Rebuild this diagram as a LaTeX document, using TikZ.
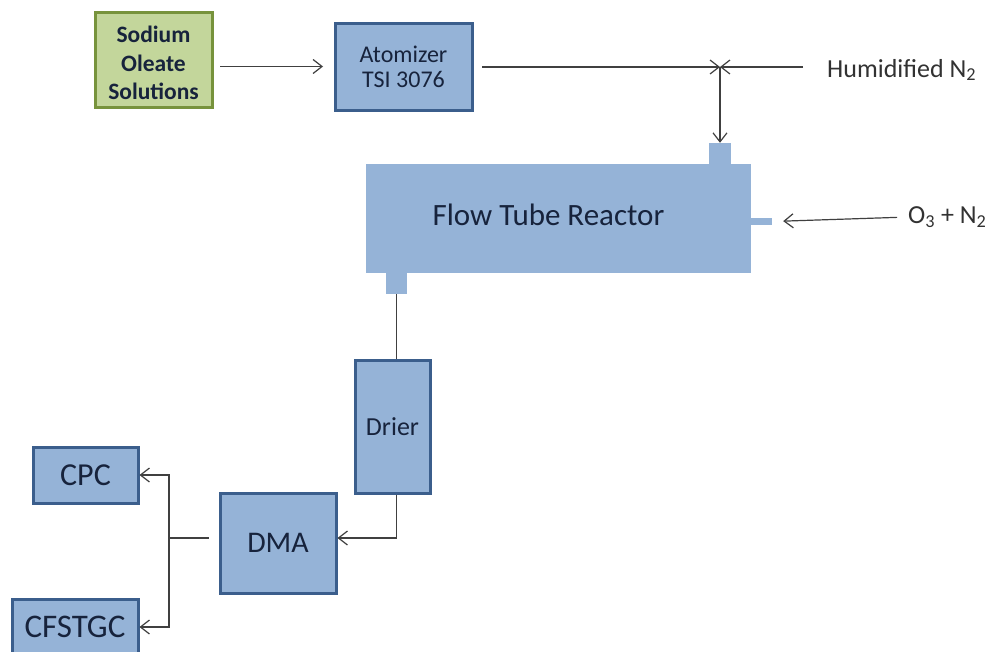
\documentclass[tikz,border=0pt]{standalone}
\usepackage{fontspec}
\setmainfont{Carlito}
\usepackage{tikz}
\usetikzlibrary{positioning,arrows.meta,calc}
\definecolor{boxfill}{RGB}{149,179,215}
\definecolor{boxline}{RGB}{59,94,140}
\definecolor{solfill}{RGB}{195,214,155}
\definecolor{solline}{RGB}{119,147,60}
\definecolor{boxtext}{RGB}{23,35,60}
\definecolor{lbltext}{RGB}{50,50,50}
\tikzset{
  flow/.style={line width=1.2pt,draw=black!75},
  flowarr/.style={flow,-{Straight Barb[length=9pt,width=14pt,line width=1.2pt]}},
  unit/.style={rectangle,draw=boxline,fill=boxfill,line width=3pt,text=boxtext,align=center,inner sep=0pt},
  feed/.style={rectangle,draw=solline,fill=solfill,line width=3pt,text=boxtext,align=center,inner sep=0pt},
  tube/.style={rectangle,fill=boxfill,inner sep=0pt},
  lbl/.style={text=lbltext,anchor=west,inner sep=0pt},
}
\newcommand{\fs}[2]{\fontsize{#1}{#2}\selectfont}
\begin{document}
\begin{tikzpicture}[x=1pt,y=-1pt]
  \path[use as bounding box,clip] (0,0) rectangle (995,651);
  \fill[white] (0,0) rectangle (995,651);
  % supply and atomizer
  \node[feed,minimum width=117pt,minimum height=95pt,font=\fs{23.5}{28.5}\bfseries] (sodium) at (153.5,59.5)
    {\raisebox{-6pt}[\height][\depth]{\begin{tabular}{@{}c@{}}Sodium\\Oleate\\Solutions\end{tabular}}};
  \node[unit,minimum width=137pt,minimum height=87pt,font=\fs{24}{25}] (atom) at (403.5,66.5)
    {Atomizer\\TSI 3076};
  % flow tube reactor with its ports
  \node[tube,minimum width=385pt,minimum height=109pt,font=\fs{31}{31},text=boxtext] (reactor) at (558.5,218.5)
    {\raisebox{4pt}[\height][\depth]{\hspace*{-20pt}Flow Tube Reactor}};
  \node[tube,minimum width=22pt,minimum height=21pt] (tnoz) at (720,153.5) {};
  \node[tube,minimum width=21pt,minimum height=7pt] (rnoz) at (761.5,221.5) {};
  \node[tube,minimum width=21pt,minimum height=21pt] (bnoz) at (396.5,283.5) {};
  % downstream instruments
  \node[unit,minimum width=75pt,minimum height=133pt,font=\fs{26}{26}] (drier) at (392.5,426.5) {Drier};
  \node[unit,minimum width=116pt,minimum height=100pt,font=\fs{30}{30}] (dma) at (278,543) {DMA};
  \node[unit,minimum width=105pt,minimum height=56pt,font=\fs{32}{32}] (cpc) at (85.5,475) {CPC};
  \node[unit,minimum width=126pt,minimum height=56pt,font=\fs{33}{33}] (cfstgc) at (75,627) {CFSTGC};
  % gas labels
  \node[lbl,font=\fs{26}{26}] (humid) at (827,70) {Humidified N\textsubscript{2}};
  \node[lbl,font=\fs{26}{26}] (ozone) at (908,217) {O\textsubscript{3} + N\textsubscript{2}};
  \coordinate (jn) at (720,67);
  \coordinate (split) at (169,538);
  % connectors
  \draw[flowarr,shorten <=6.5pt,shorten >=10.5pt] (sodium.east |- atom.west) -- (atom.west);
  \draw[flowarr,shorten <=8.5pt] (atom.east |- jn) -- (jn);
  \draw[flowarr,shorten <=24pt] (humid.west |- jn) -- (jn);
  \draw[flowarr] (jn) -- (tnoz.north);
  \draw[flowarr,shorten <=11pt,shorten >=11pt] (ozone.west) -- (rnoz.east);
  \draw[flow] (bnoz.south) -- (bnoz.south |- drier.north);
  \draw[flowarr] (drier.south -| bnoz.south) |- ([yshift=5pt]dma.east);
  \draw[flow,shorten <=10pt] ([yshift=5pt]dma.west) -- (split);
  \draw[flowarr] (split) |- (cpc.east);
  \draw[flowarr] (split) |- (cfstgc.east);
\end{tikzpicture}
\end{document}
